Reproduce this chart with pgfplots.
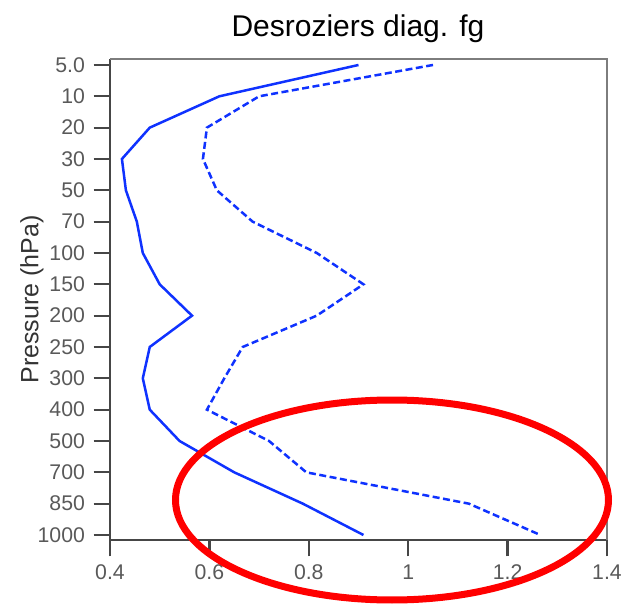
\documentclass[border=0pt]{standalone}
\usepackage{fontspec}
\setmainfont{Liberation Sans}
\usepackage{pgfplots}
\pgfplotsset{compat=1.18}
\definecolor{lineB}{RGB}{15,50,255}
\definecolor{spineD}{RGB}{70,70,70}
\definecolor{spineL}{RGB}{125,125,125}

\begin{document}
\begin{tikzpicture}
% 1 px of the reference = 0.4pt
\path[use as bounding box] (-44pt,-26pt) rectangle (206pt,216pt);
\begin{axis}[name=ax, at={(0,0)}, anchor=south west, scale only axis,
 width=198.8pt, height=192.4pt,
 xmin=0.4, xmax=1.4, ymin=-0.19, ymax=15.16, y dir=reverse,
 xtick={0.4,0.6,...,1.4},
 ytick={0,...,15},
 yticklabels={5.0,10,20,30,50,70,100,150,200,250,300,400,500,700,850,1000},
 axis x line*=bottom, axis y line*=left,
 axis line style={-, line width=0.9pt, spineD},
 tick align=outside, major tick length=6.5pt,
 tick style={line width=0.9pt, spineD},
 /pgf/number format/assume math mode=true,
 ticklabel style={font=\fontsize{8.5}{9}\selectfont, text=black!65},
 ylabel={Pressure (hPa)},
 every axis y label/.style={at={(axis description cs:-0.157,0.5)}, rotate=90, anchor=center, font=\fontsize{10}{11}\selectfont, text=black!80},
 title={Desroziers diag. fg},
 every axis title/.style={at={(axis description cs:0.499,1.046)}, anchor=base, font=\fontsize{12}{13}\selectfont},
 clip=false]
\addplot[lineB, line width=1pt] coordinates {
 (0.90,0) (0.62,1) (0.48,2) (0.424,3) (0.432,4) (0.454,5) (0.466,6) (0.50,7)
 (0.565,8) (0.48,9) (0.466,10) (0.48,11) (0.54,12) (0.65,13) (0.788,14) (0.91,15)};
\addplot[lineB, line width=1pt, dash pattern=on 2.8pt off 1.4pt] coordinates {
 (1.05,0) (0.70,1) (0.595,2) (0.587,3) (0.615,4) (0.687,5) (0.816,6) (0.91,7)
 (0.816,8) (0.667,9) (0.63,10) (0.595,11) (0.72,12) (0.795,13) (1.122,14) (1.266,15)};
\draw[spineL, line width=0.9pt] (rel axis cs:0,1) -- (rel axis cs:1,1) -- (rel axis cs:1,0);
\end{axis}
% red highlight ring drawn over the chart
\draw[red, line width=2.8pt] (112.8pt,16pt) ellipse [x radius=86.6pt, y radius=40pt];
\end{tikzpicture}
\end{document}
